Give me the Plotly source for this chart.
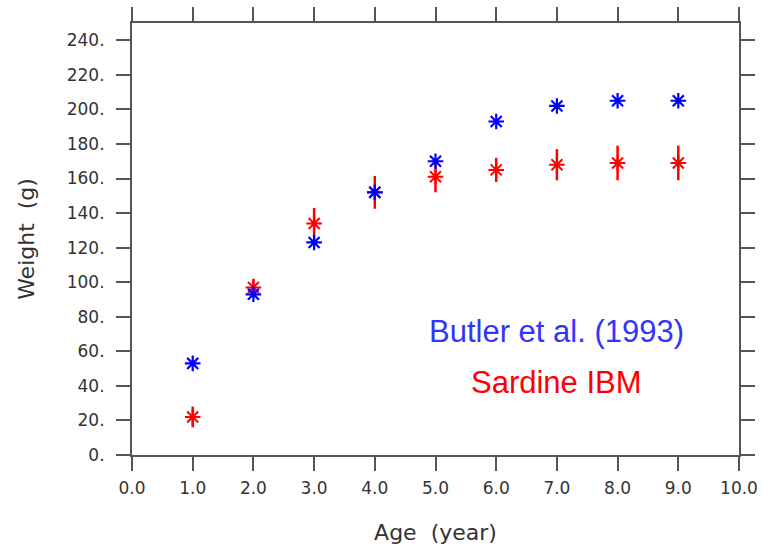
import plotly.graph_objects as go

# Age classes (years)
ages = [1, 2, 3, 4, 5, 6, 7, 8, 9]

# Observed weight-at-age, Butler et al. (1993)
butler_weight = [53, 93, 123, 152, 170, 193, 202, 205, 205]

# Modelled weight-at-age from the sardine IBM, with spread
ibm_weight = [22, 97, 134, 152, 161, 165, 168, 169, 169]
ibm_err = [6, 5, 9, 9.5, 9, 7, 9, 10, 10]

# Axis tick labels
x_ticks = [0, 1, 2, 3, 4, 5, 6, 7, 8, 9, 10]
x_tick_text = ["0.0", "1.0", "2.0", "3.0", "4.0", "5.0", "6.0", "7.0", "8.0", "9.0", "10.0"]
y_ticks = [0, 20, 40, 60, 80, 100, 120, 140, 160, 180, 200, 220, 240]
y_tick_text = ["0.", "20.", "40.", "60.", "80.", "100.", "120.", "140.", "160.", "180.", "200.", "220.", "240."]

fig = go.Figure()

fig.add_trace(go.Scatter(
    x=ages, y=ibm_weight, mode="markers", name="Sardine IBM",
    marker=dict(symbol="asterisk-open", size=13, color="#ff0000",
                line=dict(color="#ff0000", width=2)),
    error_y=dict(type="data", array=ibm_err, visible=True,
                 color="#ff0000", thickness=2.5, width=0),
))

fig.add_trace(go.Scatter(
    x=ages, y=butler_weight, mode="markers", name="Butler et al. (1993)",
    marker=dict(symbol="asterisk-open", size=13, color="#0000ff",
                line=dict(color="#0000ff", width=2.2)),
))

fig.add_annotation(x=7.0, y=71.5, xref="x", yref="y", text="Butler et al. (1993)",
                   showarrow=False, font=dict(family="Liberation Sans, Arial", size=31, color="#3333ff"))
fig.add_annotation(x=7.0, y=41.7, xref="x", yref="y", text="Sardine IBM",
                   showarrow=False, font=dict(family="Liberation Sans, Arial", size=31, color="#ff0000"))

axis_common = dict(
    showline=True, linecolor="#555555", linewidth=2, mirror="ticks",
    ticks="outside", ticklen=14, tickwidth=2, tickcolor="#555555",
    showgrid=False, zeroline=False, automargin=False,
    tickfont=dict(family="DejaVu Sans", size=17, color="#333333"),
)

fig.update_xaxes(range=[0, 10], tickmode="array", tickvals=x_ticks, ticktext=x_tick_text,
                 ticklabelstandoff=3,
                 title=dict(text="Age  (year)", font=dict(family="DejaVu Sans", size=22, color="#333333"),
                            standoff=27),
                 **axis_common)
fig.update_yaxes(range=[0, 250], tickmode="array", tickvals=y_ticks, ticktext=y_tick_text,
                 ticklabelstandoff=8,
                 title=dict(text="Weight  (g)", font=dict(family="DejaVu Sans", size=22, color="#333333"),
                            standoff=26),
                 **axis_common)

fig.update_layout(
    width=764, height=549,
    margin=dict(l=132, r=25, t=23, b=94),
    plot_bgcolor="white", paper_bgcolor="white",
    showlegend=False,
)

fig.write_html("out.html")
